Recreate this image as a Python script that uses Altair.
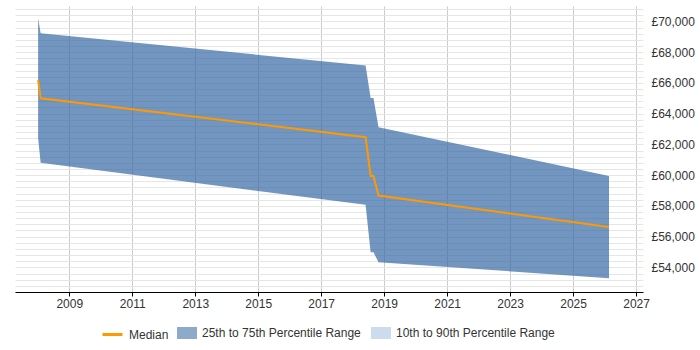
import altair as alt
import pandas as pd

# ---- data ----
years = [2008.01, 2008.09, 2018.41, 2018.57, 2018.66, 2018.82, 2026.14]
p75 = [70210, 69230, 67130, 65020, 65020, 63120, 59950]
median = [66200, 65000, 62470, 59950, 59950, 58670, 56620]
p25 = [62420, 60800, 58070, 54990, 54990, 54340, 53300]

x_ticks = [2009, 2011, 2013, 2015, 2017, 2019, 2021, 2023, 2025, 2027]
y_ticks = [54000, 56000, 58000, 60000, 62000, 64000, 66000, 68000, 70000]
minor_ticks = list(range(52400, 71001, 400))

line_names = ["Median"]
line_colors = ["#ff9900"]
band_names = ["25th to 75th Percentile Range", "10th to 90th Percentile Range"]
band_colors = ["#2f64a0", "#a2bfe0"]

df = pd.DataFrame({
    "year": years, "p75": p75, "median": median, "p25": p25,
    "band": [band_names[0]] * len(years),
    "line": [line_names[0]] * len(years),
})

FONT = "Liberation Sans"
xscale = alt.Scale(domain=[2007.276, 2027.22], nice=False, zero=False)
yscale = alt.Scale(domain=[52400, 71000], nice=False, zero=False)

common_legend = dict(
    title=None, orient="none", direction="horizontal", labelFont=FONT,
    labelFontSize=12, labelColor="#333333", labelOffset=5, columnPadding=10,
    symbolSize=400, padding=0,
)

x_axis = alt.Axis(
    values=x_ticks, format="d", title=None, labelFont=FONT, labelFontSize=12,
    labelColor="#333333", gridColor="#cccccc", domainColor="#000000",
    tickColor="#000000", tickSize=4, labelPadding=2, labelFlush=False,
)

base = alt.Chart(df)

area = base.mark_area(opacity=0.68).encode(
    x=alt.X("year:Q", scale=xscale, axis=x_axis),
    y=alt.Y("p75:Q", scale=yscale,
            axis=alt.Axis(orient="right", values=minor_ticks, labels=False, ticks=False,
                          domain=False, title=None, gridColor="#e6e6e6")),
    y2="p25:Q",
    fill=alt.Fill(
        "band:N",
        scale=alt.Scale(domain=band_names, range=band_colors),
        legend=alt.Legend(legendX=162, legendY=317, columns=2,
                          symbolType="M-1,-0.6H1V0.6H-1Z", symbolOpacity=0.55,
                          symbolStrokeWidth=0, **common_legend),
    ),
)

line = base.mark_line(strokeWidth=2).encode(
    x=alt.X("year:Q", scale=xscale, axis=x_axis),
    y=alt.Y("median:Q", scale=yscale,
            axis=alt.Axis(orient="right", values=y_ticks, ticks=False, domain=False,
                          title=None, labelExpr="'£' + format(datum.value, ',')",
                          labelFont=FONT, labelFontSize=12, labelColor="#333333",
                          labelPadding=8, gridColor="#c8c8c8")),
    stroke=alt.Stroke(
        "line:N",
        scale=alt.Scale(domain=line_names, range=line_colors),
        legend=alt.Legend(legendX=86, legendY=317, columns=1, symbolType="stroke",
                          symbolStrokeWidth=3, **common_legend),
    ),
)

chart = alt.layer(area, line).resolve_scale(y="shared").resolve_axis(y="independent").properties(
    width=628,
    height=286,
    padding={"left": 15, "top": 6, "right": 57, "bottom": 58},
    autosize=alt.AutoSizeParams(type="none"),
).configure_view(strokeWidth=0)

chart.save("out.html", embed_options={"renderer": "svg", "actions": False})
